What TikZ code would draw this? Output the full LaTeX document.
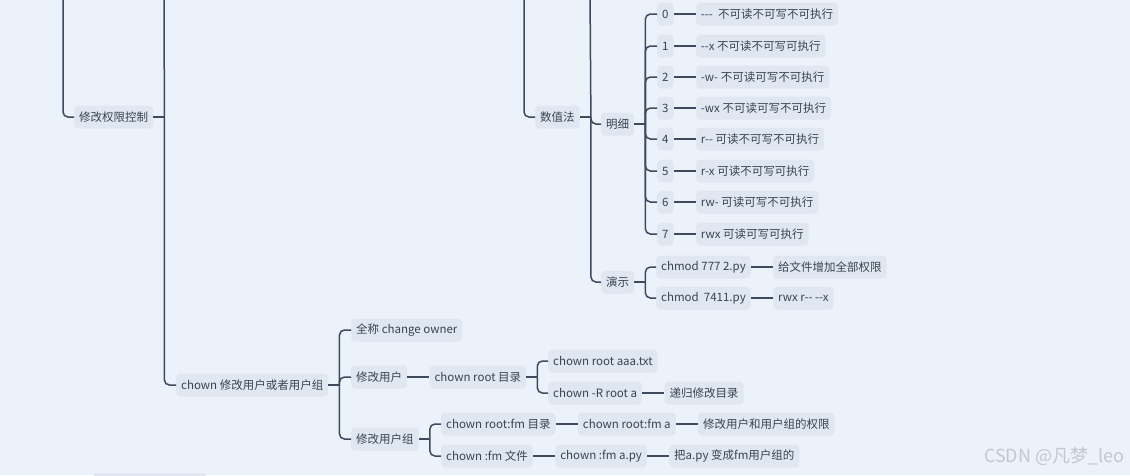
\documentclass[tikz,border=0pt]{standalone}
\usepackage{fontspec}
\newfontfamily\mapfont{Noto Sans CJK SC}
\usetikzlibrary{positioning}

\definecolor{mapbg}{HTML}{EBF2FA}
\definecolor{topicbg}{HTML}{E0E7F0}
\definecolor{linecol}{HTML}{3E4A5E}
\definecolor{topictext}{HTML}{3A4352}
\definecolor{markgray}{HTML}{C4C7CC}

\tikzset{
  topic/.style={fill=topicbg, rounded corners=4pt, text=topictext, inner xsep=5pt,
    inner ysep=0pt, minimum height=23pt, font=\mapfont\fontsize{11.5}{13}\selectfont, anchor=west},
  branch/.style={draw=linecol, line width=1.5pt, rounded corners=5pt},
}

\begin{document}
\begin{tikzpicture}[x=1pt, y=-1pt, node distance=22pt]
  \useasboundingbox (0,0) rectangle (1130,475);
  \fill[mapbg] (0,0) rectangle (1130,475);
  \clip (0,0) rectangle (1130,475);

  % parents above the crop
  \coordinate (roottop) at (63,-10);
  \coordinate (permtop) at (164,-10);
  \coordinate (chmodtop) at (524,-10);
  \coordinate (numtop) at (590,-10);

  \node[topic] (perm) at (74,117) {修改权限控制};
  \coordinate (permfork) at ([xshift=11pt]perm.east);
  \draw[branch] (roottop) |- (perm.west);
  \draw[branch] (perm) -- (permfork);
  \draw[branch] (permfork) -- (permtop);

  % chmod numbers
  \node[topic] (num) at (535,117) {数值法};
  \coordinate (numfork) at ([xshift=11pt]num.east);
  \draw[branch] (chmodtop) |- (num.west);
  \draw[branch] (num) -- (numfork);
  \draw[branch] (numfork) -- (numtop);

  \node[topic] (detail) at (601,124) {明细};
  \coordinate (detailfork) at ([xshift=11pt]detail.east);
  \draw[branch] (numfork) |- (detail.west);
  \draw[branch] (detail) -- (detailfork);

  \foreach \d/\y/\perm in {0/14/{---\ \ 不可读不可写不可执行}, 1/46/{--x 不可读不可写可执行},
      2/77/{-w- 不可读可写不可执行}, 3/108/{-wx 不可读可写不可执行}, 4/139/{r-- 可读不可写不可执行},
      5/171/{r-x 可读不可写可执行}, 6/202/{rw- 可读可写不可执行}, 7/234/{rwx 可读可写可执行}} {
    \node[topic] (n\d) at (657,\y) {\d};
    \node[topic, right=of n\d] (d\d) {\perm};
    \draw[branch] (detailfork) |- (n\d.west);
    \draw[branch] (n\d) -- (d\d);
  }

  \node[topic] (demo) at (601,282) {演示};
  \coordinate (demofork) at ([xshift=11pt]demo.east);
  \draw[branch] (numfork) |- (demo.west);
  \draw[branch] (demo) -- (demofork);

  \node[topic] (all) at (656,267) {chmod 777 2.py};
  \node[topic, right=of all] (alldesc) {给文件增加全部权限};
  \node[topic] (part) at (656,298) {chmod\ \ 7411.py};
  \node[topic, right=of part] (partdesc) {rwx r-- --x};
  \draw[branch] (demofork) |- (all.west);
  \draw[branch] (demofork) |- (part.west);
  \draw[branch] (all) -- (alldesc);
  \draw[branch] (part) -- (partdesc);

  % chown
  \node[topic] (chown) at (176,385) {chown 修改用户或者用户组};
  \coordinate (chownfork) at ([xshift=11pt]chown.east);
  \draw[branch] (permfork) |- (chown.west);
  \draw[branch] (chown) -- (chownfork);

  \node[topic] (full) at (351,330) {全称 change owner};
  \node[topic] (chuser) at (351,377) {修改用户};
  \node[topic] (chgroup) at (351,439) {修改用户组};
  \foreach \c in {full, chuser, chgroup}
    \draw[branch] (chownfork) |- (\c.west);

  \node[topic, right=of chuser] (rootdir) {chown root 目录};
  \draw[branch] (chuser) -- (rootdir);
  \coordinate (rootfork) at ([xshift=11pt]rootdir.east);
  \draw[branch] (rootdir) -- (rootfork);
  \node[topic] (aaa) at (548,361) {chown root aaa.txt};
  \node[topic] (rec) at (548,393) {chown -R root a};
  \node[topic, right=of rec] (recdesc) {递归修改目录};
  \draw[branch] (rootfork) |- (aaa.west);
  \draw[branch] (rootfork) |- (rec.west);
  \draw[branch] (rec) -- (recdesc);

  \coordinate (groupfork) at ([xshift=11pt]chgroup.east);
  \draw[branch] (chgroup) -- (groupfork);
  \node[topic] (grpdir) at (441,424) {chown root:fm 目录};
  \node[topic, right=of grpdir] (grpcmd) {chown root:fm a};
  \node[topic, right=of grpcmd] (grpdesc) {修改用户和用户组的权限};
  \node[topic] (grpfile) at (441,456) {chown :fm 文件};
  \node[topic, right=of grpfile] (filecmd) {chown :fm a.py};
  \node[topic, right=of filecmd] (filedesc) {把a.py 变成fm用户组的};
  \draw[branch] (groupfork) |- (grpdir.west);
  \draw[branch] (groupfork) |- (grpfile.west);
  \draw[branch] (grpdir) -- (grpcmd);
  \draw[branch] (grpcmd) -- (grpdesc);
  \draw[branch] (grpfile) -- (filecmd);
  \draw[branch] (filecmd) -- (filedesc);

  % next topic, cut off at the bottom
  \fill[topicbg, rounded corners=4pt] (93,473) rectangle (207,500);

  \node[font=\mapfont\fontsize{18}{20}\selectfont, text=markgray, anchor=east] (mark) at (1128,456) {CSDN @凡梦\_leo};
\end{tikzpicture}
\end{document}
